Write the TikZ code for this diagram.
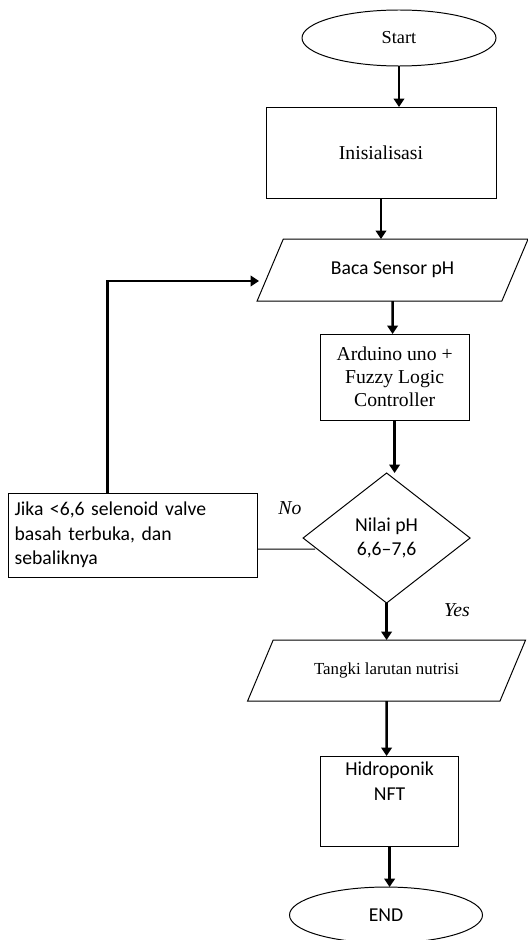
\documentclass[tikz,border=0pt]{standalone}
\usepackage{fontspec}
\setmainfont{Liberation Serif}
\newfontfamily\carlito{Carlito}
\usepackage{tikz}
\usetikzlibrary{arrows.meta, positioning, shapes.geometric, calc}

\begin{document}
\begin{tikzpicture}[>={Triangle[length=6pt,width=7.5pt]}, node distance=1cm,
    every node/.style={font=\fontsize{14pt}{16.5pt}\selectfont, outer sep=0pt},
    sfont/.style={font=\carlito\fontsize{14pt}{17.5pt}\selectfont},
    term/.style={draw, line width=0.7pt, ellipse, minimum width=4.85cm, minimum height=1.4cm, inner sep=0pt},
    proc/.style={draw, line width=0.7pt, rectangle, align=center},
    iobox/.style={draw, line width=0.7pt, trapezium, trapezium left angle=44, trapezium right angle=136, trapezium stretches body},
    flow/.style={->, line width=1.8pt},
    link/.style={line width=0.7pt},
    lbl/.style={font=\itshape\fontsize{14pt}{16pt}\selectfont}]
  \useasboundingbox (0,0) rectangle (13.2,-23.5);
  \node[term, font=\fontsize{13pt}{15pt}\selectfont] (start) at (9.975,-0.95) {Start};
  \node[proc, minimum width=5.75cm, minimum height=2.275cm, below=1.025cm of start, xshift=-0.45cm] (init) {Inisialisasi};
  \node[iobox, sfont, minimum width=6.775cm, minimum height=1.55cm, below=1.025cm of init, xshift=0.29cm] (baca) {Baca Sensor pH};
  \node[proc, minimum width=3.725cm, minimum height=2.15cm, below=0.825cm of baca, xshift=0.05cm] (ardu) {Arduino uno +\\Fuzzy Logic\\Controller};
  \node[draw, line width=0.7pt, diamond, sfont, align=center, minimum width=4.175cm, minimum height=3.25cm, inner sep=0pt, below=1.325cm of ardu, xshift=-0.2cm] (dec) {Nilai pH\\6,6–7,6};
  \node[iobox, font=\fontsize{12pt}{14pt}\selectfont, minimum width=6.95cm, minimum height=1.525cm, below=0.925cm of dec] (tangki) {Tangki larutan nutrisi};
  \node[proc, sfont, minimum width=3.45cm, minimum height=2.25cm, text depth=1.0cm, below=1.375cm of tangki, xshift=0.075cm] (hidro) {Hidroponik\\NFT};
  \node[term, sfont, minimum width=4.825cm, below=1.025cm of hidro, xshift=-0.09cm] (end) {END};
  \node[proc, sfont, align=left, text width=5.9cm, minimum width=6.225cm, minimum height=2.1cm, left=1.15cm of dec, yshift=0.075cm] (jika) {Jika {<}6,6 selenoid valve\\basah terbuka, dan\\sebaliknya};
  \node[lbl] (no) at ($(dec.west)+(-0.33,0.75)$) {No};
  \node[lbl] (yes) at ($(dec.south)+(1.76,-0.18)$) {Yes};
  \coordinate (fbout) at ($(jika.north)+(-0.625,0)$);
  \coordinate (fbin) at ($(baca.west)+(-0.28,-0.275)$);
  \coordinate (nostart) at ($(jika.east)+(0,-0.35)$);
  \coordinate (noend) at ($(dec.west)+(0.3,-0.275)$);
  % main flow
  \draw[flow] (start) -- (start |- init.north);
  \draw[flow] (init) -- (init |- baca.north);
  \draw[flow] (baca) -- (baca |- ardu.north);
  \draw[flow] (ardu) -- (ardu |- dec.north);
  \draw[flow] (dec) -- (dec |- tangki.north);
  \draw[flow] (tangki) -- (tangki |- hidro.north);
  \draw[flow] (hidro) -- (hidro |- end.north);
  % loop back when pH out of range
  \draw[link] (nostart) -- (noend);
  \draw[flow] (fbout) |- (fbin);
\end{tikzpicture}
\end{document}
